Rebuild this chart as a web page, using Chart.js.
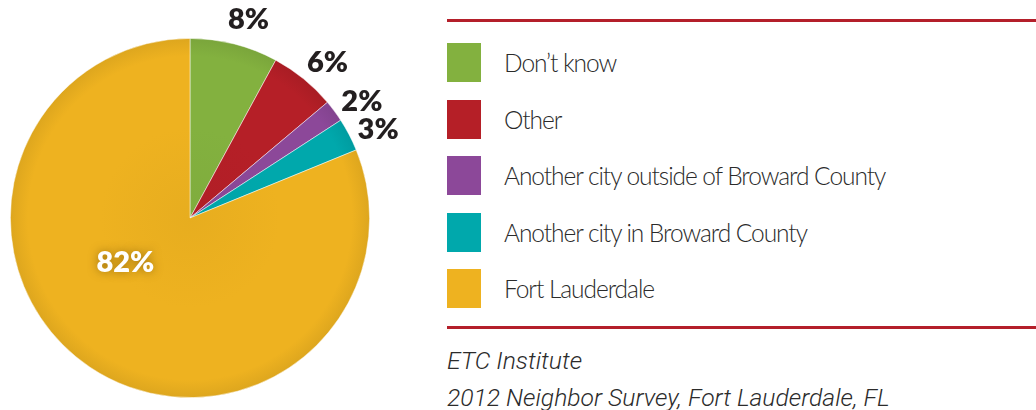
<!DOCTYPE html>
<html>
<head>
<meta charset="utf-8">
<script src="https://cdn.jsdelivr.net/npm/chart.js@4/dist/chart.umd.min.js"></script>
<style>
body{margin:0;background:#fff;width:1036px;height:410px;overflow:hidden;position:relative;font-family:Lato,sans-serif}
#pieBox{position:absolute;left:0;top:0;width:440px;height:410px}
#legend{position:absolute;left:447px;top:19px;width:589px}
.rule{height:3px;background:#b41f2a}
.row{display:flex;align-items:center;height:39px;margin-top:17.5px}
.row:first-of-type{margin-top:21px}
.sw{width:34px;height:39px;flex:none}
.lab{margin-left:23px;font-size:24.5px;font-weight:300;color:#2b2b2b;letter-spacing:-1.05px}
#rows{margin-bottom:18px}
.note{font-family:Roboto,sans-serif;font-style:italic;font-weight:300;font-size:24.7px;color:#2b2b2b;line-height:37px}
</style>
</head>
<body>
<div id="pieBox"><canvas id="pie"></canvas></div>
<div id="legend">
  <div class="rule"></div>
  <div id="rows"></div>
  <div class="rule"></div>
  <div class="note" style="margin-top:13px">ETC Institute</div>
  <div class="note">2012 Neighbor Survey, Fort Lauderdale, FL</div>
</div>
<script>
let categories=['Don\u2019t know','Other','Another city outside of Broward County','Another city in Broward County','Fort Lauderdale'];
let shares=[8,6,2,3,82];
let sliceColors=['#83b13f','#b51f27','#8c4899','#00a8ac','#eeb220'];

let rows=document.getElementById('rows');
for(let i in categories){
    let r=document.createElement('div');
    r.className='row';
    r.innerHTML='<div class="sw" style="background:'+sliceColors[i]+'"></div><div class="lab">'+categories[i]+'</div>';
    rows.appendChild(r);
}

function shade(hex,f){
    let n=parseInt(hex.slice(1),16);
    let r=Math.round(((n>>16)&255)*f),g=Math.round(((n>>8)&255)*f),b=Math.round((n&255)*f);
    return 'rgb('+r+','+g+','+b+')';
}

// percent labels: outside for small slices, inside for the big one
let pctLabels={
    id:'pctLabels',
    afterDatasetsDraw(chart){
        let ctx=chart.ctx;
        let arcs=chart.getDatasetMeta(0).data;
        ctx.save();
        ctx.font='800 29px Lato';
        ctx.textAlign='center';
        ctx.textBaseline='middle';
        arcs.forEach((a,i)=>{
            let mid=(a.startAngle+a.endAngle)/2;
            let x,y;
            if(shares[i]>50){
                let ang=mid+0.4;
                x=a.x+Math.cos(ang)*a.outerRadius*0.43;
                y=a.y+Math.sin(ang)*a.outerRadius*0.43;
                ctx.shadowColor='rgba(90,60,0,0.55)';
                ctx.shadowBlur=10;
                ctx.fillStyle='#fff';
            }else{
                let ang=mid+0.035;
                x=a.x+Math.cos(ang)*(a.outerRadius+29);
                y=a.y+Math.sin(ang)*(a.outerRadius+29);
                ctx.shadowBlur=0;
                ctx.fillStyle='#231f20';
            }
            ctx.fillText(shares[i]+'%',x,y+2);
        });
        ctx.restore();
    }
};

new Chart(document.getElementById('pie').getContext('2d'),{
    type:'pie',
    data:{
        labels:categories,
        datasets:[{
            data:shares,
            backgroundColor:function(c){
                let ch=c.chart, a=ch.chartArea;
                if(!a) return sliceColors[c.dataIndex];
                let cx=(a.left+a.right)/2, cy=(a.top+a.bottom)/2, r=Math.min(a.right-a.left,a.bottom-a.top)/2;
                let g=ch.ctx.createRadialGradient(cx,cy,0,cx,cy,r);
                let base=sliceColors[c.dataIndex];
                g.addColorStop(0,shade(base,0.97));
                g.addColorStop(0.5,base);
                g.addColorStop(0.9,base);
                g.addColorStop(1,shade(base,0.93));
                return g;
            },
            borderColor:'rgba(255,255,255,0.6)',
            borderWidth:0.8
        }]
    },
    options:{
        responsive:true,
        maintainAspectRatio:false,
        animation:false,
        layout:{padding:{left:10,right:70,top:38,bottom:12}},
        plugins:{legend:{display:false},tooltip:{enabled:false}}
    },
    plugins:[pctLabels]
});
</script>
</body>
</html>
